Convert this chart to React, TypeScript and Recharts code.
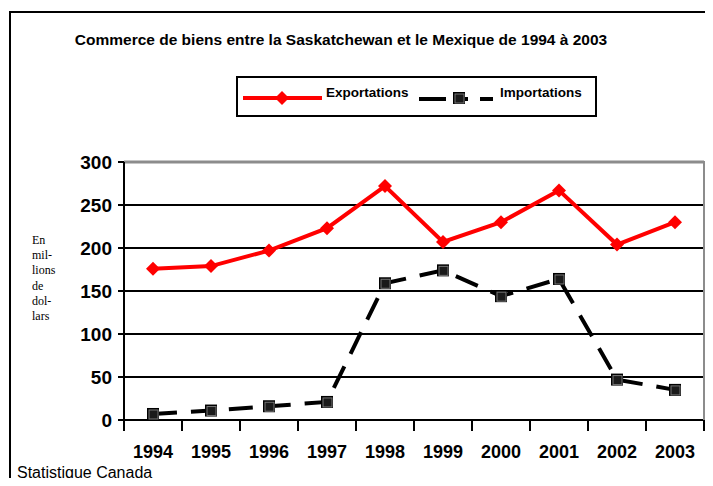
import React from "react";
import {
  LineChart,
  Line,
  XAxis,
  YAxis,
  CartesianGrid,
  ReferenceLine,
} from "recharts";

const years = ["1994", "1995", "1996", "1997", "1998", "1999", "2000", "2001", "2002", "2003"];
const exportations = [176, 179, 197, 223, 272, 207, 230, 267, 204, 230];
const importations = [7, 11, 16, 21, 159, 174, 144, 164, 47, 35];
const yTicks = [0, 50, 100, 150, 200, 250, 300];

const data = years.map((y, i) => ({
  annee: y,
  exportations: exportations[i],
  importations: importations[i],
}));

const FONT = "'Liberation Sans', Arial, sans-serif";
const BAND = 58;

function Diamond({ cx, cy }: { cx?: number; cy?: number }) {
  if (cx == null || cy == null) return null;
  const r = 7;
  return (
    <polygon
      points={`${cx},${cy - r} ${cx + r},${cy} ${cx},${cy + r} ${cx - r},${cy}`}
      fill="#ff0000"
    />
  );
}

function Square({ cx, cy }: { cx?: number; cy?: number }) {
  if (cx == null || cy == null) return null;
  return (
    <g>
      <rect x={cx - 6} y={cy - 6} width={12} height={12} fill="#000" />
      <rect x={cx - 4} y={cy - 4} width={9} height={9} fill="#1a1a1a" stroke="#777" strokeWidth={1} />
    </g>
  );
}

function YearTick(props: any) {
  const { x, y, payload, index } = props;
  const left = x - BAND / 2;
  return (
    <g>
      <line x1={left} y1={y - 8} x2={left} y2={y + 3} stroke="#000" strokeWidth={2} />
      {index === years.length - 1 && (
        <line x1={left + BAND} y1={y - 8} x2={left + BAND} y2={y + 3} stroke="#000" strokeWidth={2} />
      )}
      <text
        x={x}
        y={y + 30}
        textAnchor="middle"
        fontFamily={FONT}
        fontWeight="bold"
        fontSize={18}
        fill="#000"
      >
        {payload.value}
      </text>
    </g>
  );
}

function LegendBox() {
  return (
    <div
      style={{
        position: "absolute",
        left: 236,
        top: 76,
        width: 357,
        height: 37,
        border: "2px solid #000",
        fontFamily: FONT,
        fontWeight: "bold",
        fontSize: 13.5,
        background: "#fff",
      }}
    >
      <svg width={357} height={37} style={{ position: "absolute", left: 0, top: 0 }}>
        <line x1={5} y1={20} x2={84} y2={20} stroke="#ff0000" strokeWidth={4} />
        <Diamond cx={44} cy={20} />
        <line x1={181} y1={21} x2={208} y2={21} stroke="#000" strokeWidth={4} />
        <line x1={218} y1={21} x2={230} y2={21} stroke="#000" strokeWidth={4} />
        <line x1={242} y1={21} x2={255} y2={21} stroke="#000" strokeWidth={4} />
        <Square cx={221} cy={20} />
      </svg>
      <span style={{ position: "absolute", left: 88, top: 7 }}>Exportations</span>
      <span style={{ position: "absolute", left: 262, top: 7 }}>Importations</span>
    </div>
  );
}

export default function App() {
  return (
    <div
      style={{
        position: "relative",
        width: 713,
        height: 486,
        margin: -8,
        overflow: "hidden",
        background: "#fff",
      }}
    >
      <div
        style={{
          position: "absolute",
          left: 9,
          top: 11,
          width: 720,
          height: 500,
          borderLeft: "2px solid #000",
          borderTop: "2px solid #000",
        }}
      />
      <div
        style={{
          position: "absolute",
          left: 0,
          width: 682,
          top: 31,
          textAlign: "center",
          fontFamily: FONT,
          fontWeight: "bold",
          fontSize: 15.5,
        }}
      >
        Commerce de biens entre la Saskatchewan et le Mexique de 1994 à 2003
      </div>
      <div
        style={{
          position: "absolute",
          left: 32,
          top: 233,
          fontFamily: "'Liberation Serif', 'Times New Roman', serif",
          fontSize: 12,
          lineHeight: "15.2px",
        }}
      >
        En
        <br />
        mil-
        <br />
        lions
        <br />
        de
        <br />
        dol-
        <br />
        lars
      </div>
      <div
        style={{
          position: "absolute",
          left: 17,
          top: 464,
          fontFamily: FONT,
          fontSize: 16,
        }}
      >
        Statistique Canada
      </div>
      <LegendBox />
      <div style={{ position: "absolute", left: 0, top: 0 }}>
        <LineChart
          width={713}
          height={486}
          data={data}
          margin={{ top: 162, right: 9, bottom: 36, left: 64 }}
        >
          <CartesianGrid vertical={false} stroke="#000" strokeWidth={2} horizontalValues={[50, 100, 150, 200, 250]} />
          <ReferenceLine y={300} stroke="#8c8c8c" strokeWidth={3} />
          <XAxis
            dataKey="annee"
            scale="band"
            tick={<YearTick />}
            tickLine={false}
            axisLine={{ stroke: "#000", strokeWidth: 2 }}
            height={30}
            interval={0}
          />
          <YAxis
            domain={[0, 300]}
            ticks={yTicks}
            width={60}
            tickSize={6}
            tickMargin={6}
            tickLine={{ stroke: "#000", strokeWidth: 2 }}
            axisLine={{ stroke: "#000", strokeWidth: 2 }}
            tick={{ fill: "#000", fontSize: 19, fontWeight: "bold", fontFamily: FONT }}
          />
          <Line
            type="linear"
            dataKey="importations"
            stroke="#000"
            strokeWidth={4}
            strokeDasharray="24 14"
            dot={<Square />}
            activeDot={false}
            isAnimationActive={false}
          />
          <Line
            type="linear"
            dataKey="exportations"
            stroke="#ff0000"
            strokeWidth={4}
            dot={<Diamond />}
            activeDot={false}
            isAnimationActive={false}
          />
        </LineChart>
      </div>
      <div
        style={{
          position: "absolute",
          left: 703,
          top: 161,
          width: 3,
          height: 259,
          background: "#8c8c8c",
        }}
      />
    </div>
  );
}
